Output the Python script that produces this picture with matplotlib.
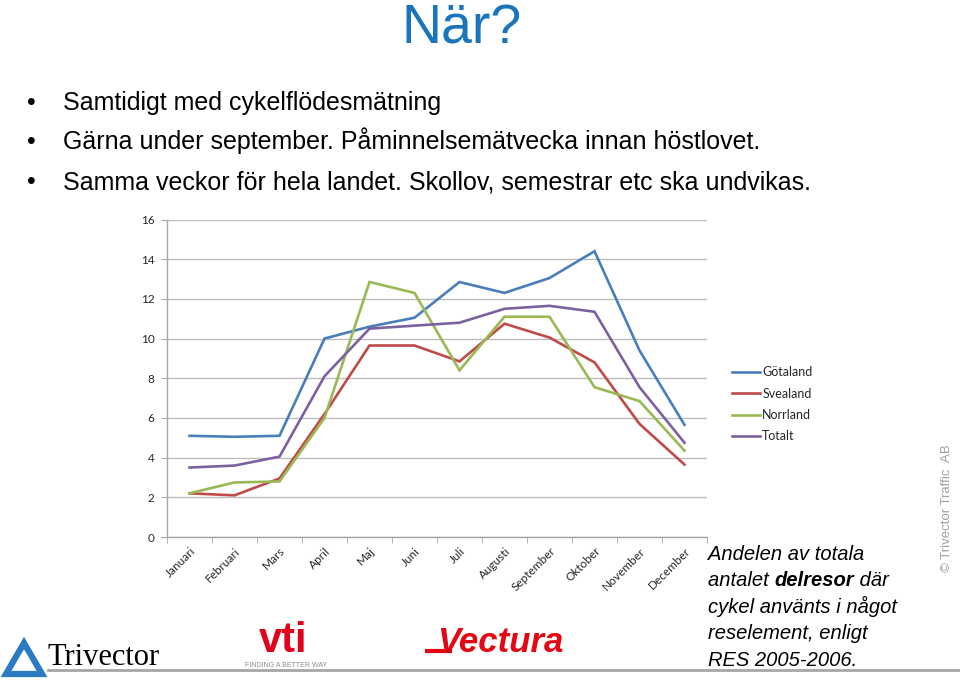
import matplotlib
matplotlib.use("Agg")
import matplotlib.pyplot as plt
from matplotlib.patches import Polygon
from matplotlib.lines import Line2D

# Data
months = ["Januari", "Februari", "Mars", "April", "Maj", "Juni", "Juli",
          "Augusti", "September", "Oktober", "November", "December"]
gotaland = [5.1, 5.05, 5.1, 10.0, 10.6, 11.05, 12.85, 12.3, 13.05, 14.4, 9.4, 5.65]
svealand = [2.2, 2.1, 2.95, 6.2, 9.65, 9.65, 8.85, 10.75, 10.05, 8.8, 5.7, 3.65]
norrland = [2.2, 2.75, 2.8, 6.0, 12.85, 12.3, 8.4, 11.1, 11.1, 7.55, 6.85, 4.35]
totalt = [3.5, 3.6, 4.05, 8.1, 10.5, 10.65, 10.8, 11.5, 11.65, 11.35, 7.55, 4.75]
series = [("Götaland", gotaland, "#4A7EBB"),
          ("Svealand", svealand, "#BE4B48"),
          ("Norrland", norrland, "#98B954"),
          ("Totalt", totalt, "#7D60A0")]
yticks = [0, 2, 4, 6, 8, 10, 12, 14, 16]

bullets = ["Samtidigt med cykelflödesmätning",
           "Gärna under september. Påminnelsemätvecka innan höstlovet.",
           "Samma veckor för hela landet. Skollov, semestrar etc ska undvikas."]

W, H = 960, 684
def fx(px):
    return px / W
def fy(py):
    return 1 - py / H

fig = plt.figure(figsize=(9.6, 6.84), dpi=100, facecolor="white")

# title and bullets
fig.text(fx(402), fy(44), "När?", fontsize=40, color="#1B75BC",
         family="Liberation Sans", va="baseline", ha="left")
for i, b in enumerate(bullets):
    base = 110 + i * 39.5
    fig.text(fx(27), fy(base), "•", fontsize=18, family="Liberation Sans",
             va="baseline", ha="left")
    fig.text(fx(63), fy(base), b, fontsize=18, family="Liberation Sans",
             va="baseline", ha="left")

# chart
ax = fig.add_axes([fx(167), fy(537), 540 / W, (537 - 219.5) / H])
for name, vals, col in series:
    ax.plot(range(len(months)), vals, color=col, lw=1.9, label=name,
            solid_joinstyle="miter")
ax.set_xlim(-0.5, len(months) - 0.5)
ax.set_ylim(0, 16)
ax.set_yticks(yticks)
ax.yaxis.grid(True, color="#BDBDBD", lw=1)
ax.set_axisbelow(True)
for s in ["top", "right"]:
    ax.spines[s].set_visible(False)
for s in ["left", "bottom"]:
    ax.spines[s].set_color("#A6A6A6")
    ax.spines[s].set_linewidth(1)
ax.set_xticks(range(len(months)))
ax.set_xticks([i - 0.5 for i in range(len(months) + 1)], minor=True)
ax.tick_params(axis="x", which="major", length=0, pad=6)
ax.tick_params(axis="x", which="minor", length=4, color="#A6A6A6", direction="out")
ax.tick_params(axis="y", length=4, color="#A6A6A6", pad=5, labelsize=8.5,
               labelcolor="#262626")
ax.set_xticklabels(months, rotation=45, ha="right", rotation_mode="anchor",
                   fontsize=8.5, color="#262626", family="Lato")
for lab in ax.get_yticklabels():
    lab.set_family("Lato")

leg = fig.legend(loc="upper left", bbox_to_anchor=(fx(726), fy(360)),
                 frameon=False, handlelength=2.2,
                 handletextpad=0.2, labelspacing=0.75, borderpad=0,
                 prop={"family": "Lato", "size": 9})
for t in leg.get_texts():
    t.set_color("#262626")

# footnote text
tx = 708
rl = ["Andelen av totala", None, "cykel använts i något",
      "reselement, enligt", "RES 2005-2006."]
fig.canvas.draw()
r = fig.canvas.get_renderer()
for i, line in enumerate(rl):
    base = 559.5 + i * 26.6
    if line is not None:
        fig.text(fx(tx), fy(base), line, fontsize=14.5, style="italic",
                 family="Liberation Sans", va="baseline")
    else:
        x = tx
        for part, wt in [("antalet ", "normal"), ("delresor", "bold"), (" där", "normal")]:
            t = fig.text(fx(x), fy(base), part, fontsize=14.5, style="italic",
                         weight=wt, family="Liberation Sans", va="baseline")
            x += t.get_window_extent(renderer=r).width

fig.text(fx(947), fy(508), "© Trivector Traffic  AB", rotation=90,
         fontsize=9.5, color="#A0A0A0", family="Liberation Sans",
         ha="center", va="center")

# bottom rule
fig.add_artist(Line2D([fx(48), fx(960)], [fy(670), fy(670)],
                      color="#A6A6A6", lw=2))

# Trivector logo
blue = "#2A7BC1"
outer = [(6, 674), (24, 643), (42, 674)]
fig.add_artist(Polygon([(fx(a), fy(b)) for a, b in outer], closed=True,
                       fill=False, edgecolor=blue, lw=4.5, joinstyle="miter"))
fig.text(fx(48), fy(665), "Trivector", fontsize=22, family="Liberation Serif",
         va="baseline")

# vti logo
fig.text(fx(259), fy(652), "vti", fontsize=30, weight="bold", color="#E2001A",
         family="Liberation Sans", va="baseline")
fig.text(fx(245), fy(667), "FINDING A BETTER WAY", fontsize=5, color="#8C8C8C",
         family="Liberation Sans", va="baseline")

# Vectura logo
fig.add_artist(Line2D([fx(425), fx(452)], [fy(651), fy(651)],
                      color="#E30613", lw=3, solid_capstyle="butt"))
fig.text(fx(437), fy(652), "Vectura", fontsize=25, weight="bold", style="italic",
         color="#E30613", family="Liberation Sans", va="baseline")

fig.savefig("out.png", dpi=100)
